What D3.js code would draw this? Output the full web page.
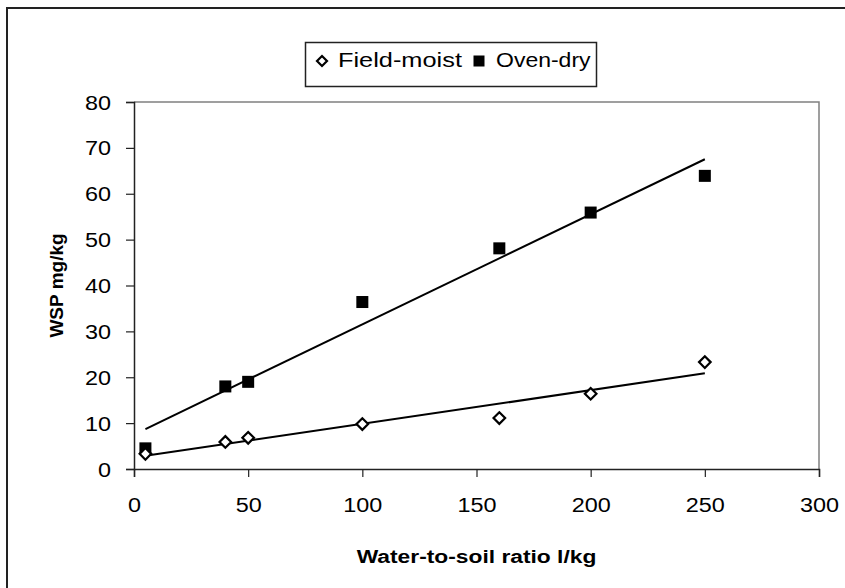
<!DOCTYPE html>
<html>
<head>
<meta charset="utf-8">
<script src="https://cdn.jsdelivr.net/npm/d3@7"></script>
<style>
	body { margin: 0; background: #fff; }
	svg { display: block; font-family: "Liberation Sans", Arial, sans-serif; }
</style>
</head>
<body>
<div id="chart"></div>
<script>

var ratios = [5, 40, 50, 100, 160, 200, 250];
var field_moist = [3.3, 5.9, 6.8, 9.8, 11.1, 16.4, 23.3];
var oven_dry = [4.5, 18, 19, 36.4, 48.1, 55.9, 63.9];
var x_ticks = [0, 50, 100, 150, 200, 250, 300];
var y_ticks = [0, 10, 20, 30, 40, 50, 60, 70, 80];

var width = 845, height = 588;
var plot = {left: 134, right: 819, top: 102, bottom: 469};
var font_size = 19.5;
var stretch = 1.2;  // the original picture is wider than it is tall

var svg = d3.select('#chart').append('svg')
	.attr('width', width)
	.attr('height', height);

// chart frame (cut off on the right and bottom)
svg.append('rect')
	.attr('x', 7).attr('y', 8)
	.attr('width', 900).attr('height', 700)
	.attr('fill', '#fff')
	.attr('stroke', '#222')
	.attr('stroke-width', 2);

var x = d3.scaleLinear().domain([0, 300]).range([plot.left, plot.right]);
var y = d3.scaleLinear().domain([0, 80]).range([plot.bottom, plot.top]);

// plot area border, grey on top and right
svg.append('path')
	.attr('d', 'M' + plot.left + ',' + plot.top + 'H' + plot.right + 'V' + plot.bottom)
	.attr('fill', 'none')
	.attr('stroke', '#808080')
	.attr('stroke-width', 1.5);

var x_axis = svg.append('g')
	.attr('transform', 'translate(0,' + plot.bottom + ')')
	.call(d3.axisBottom(x).tickValues(x_ticks).tickSize(8));

var y_axis = svg.append('g')
	.attr('transform', 'translate(' + plot.left + ',0)')
	.call(d3.axisLeft(y).tickValues(y_ticks).tickSize(8));

[x_axis, y_axis].forEach(function (ax) {
	ax.select('.domain').attr('stroke', '#222').attr('stroke-width', 1.5);
	ax.selectAll('.tick line').attr('stroke', '#222').attr('stroke-width', 1.2);
	ax.selectAll('.tick text')
		.attr('font-size', font_size)
		.attr('fill', '#000')
		.attr('transform', 'scale(' + stretch + ',1)')
		.style('font-family', '"Liberation Sans", Arial, sans-serif');
});

x_axis.selectAll('.tick text').attr('x', 0).attr('y', 43).attr('dy', null);
y_axis.selectAll('.tick text').attr('x', -23 / stretch).attr('dy', '0.36em');

// axis titles
svg.append('text')
	.attr('text-anchor', 'middle')
	.attr('transform', 'translate(' + ((plot.left + plot.right) / 2) + ',563)scale(' + stretch + ',1)')
	.attr('font-size', 19)
	.attr('font-weight', 'bold')
	.text('Water-to-soil ratio l/kg');

svg.append('text')
	.attr('text-anchor', 'middle')
	.attr('transform', 'translate(63,' + ((plot.top + plot.bottom) / 2) + ')rotate(-90)')
	.attr('font-size', 19)
	.attr('font-weight', 'bold')
	.text('WSP mg/kg');

// least squares trend line for one series
function trend(ys) {
	var mx = d3.mean(ratios), my = d3.mean(ys);
	var sxy = d3.sum(ratios, function (v, i) { return (v - mx) * (ys[i] - my); });
	var sxx = d3.sum(ratios, function (v) { return (v - mx) * (v - mx); });
	var slope = sxy / sxx;
	var lo = d3.min(ratios), hi = d3.max(ratios);
	return [[lo, my + slope * (lo - mx)], [hi, my + slope * (hi - mx)]];
}

var line = d3.line()
	.x(function (d) { return x(d[0]); })
	.y(function (d) { return y(d[1]); });

[oven_dry, field_moist].forEach(function (ys) {
	svg.append('path')
		.attr('d', line(trend(ys)))
		.attr('fill', 'none')
		.attr('stroke', '#000')
		.attr('stroke-width', 2);
});

function drawDiamond(g, cx, cy, r) {
	g.append('path')
		.attr('d', 'M0,' + (-r) + 'L' + r + ',0L0,' + r + 'L' + (-r) + ',0Z')
		.attr('transform', 'translate(' + cx + ',' + cy + ')')
		.attr('fill', '#fff')
		.attr('stroke', '#000')
		.attr('stroke-width', 2.2);
}

function drawSquare(g, cx, cy, s) {
	g.append('rect')
		.attr('x', cx - s / 2).attr('y', cy - s / 2)
		.attr('width', s).attr('height', s)
		.attr('fill', '#000');
}

var points = svg.append('g');
ratios.forEach(function (r, i) {
	drawSquare(points, x(r), y(oven_dry[i]), 12);
});
ratios.forEach(function (r, i) {
	drawDiamond(points, x(r), y(field_moist[i]), 5.8);
});

// legend
var legend = svg.append('g');
legend.append('rect')
	.attr('x', 305.5).attr('y', 42.5)
	.attr('width', 291).attr('height', 44)
	.attr('fill', '#fff')
	.attr('stroke', '#222')
	.attr('stroke-width', 1.5);

drawDiamond(legend, 322, 61, 5);
legend.append('text')
	.attr('transform', 'translate(338,67)scale(1.3,1)')
	.attr('font-size', font_size)
	.text('Field-moist');

drawSquare(legend, 479, 61, 11);
legend.append('text')
	.attr('transform', 'translate(496,67)scale(1.18,1)')
	.attr('font-size', font_size)
	.text('Oven-dry');

</script>
</body>
</html>
